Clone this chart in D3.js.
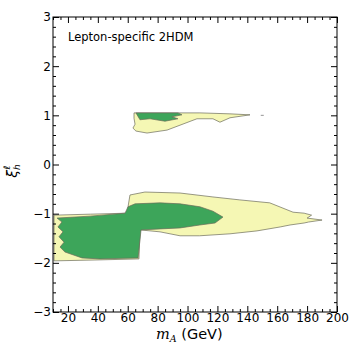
<!DOCTYPE html>
<html>
<head>
<meta charset="utf-8">
<script src="https://cdn.jsdelivr.net/npm/d3@7"></script>
<style>
  body { margin: 0; background: #fff; }
  text { font-family: "DejaVu Sans", sans-serif; }
</style>
</head>
<body>
<div id="chart-area"></div>
<script>
// contour regions, [mA (GeV), xi]
var lowerOuter = [
    [10.7, -1.03], [35, -1.01], [59.5, -0.99], [61.5, -0.62], [71.5, -0.56],
    [95, -0.58], [117, -0.66], [135, -0.72], [155, -0.78], [170.6, -0.97],
    [178, -0.99], [183, -1.03], [180, -1.09], [190, -1.13], [181, -1.17],
    [178, -1.19], [168.6, -1.23], [162, -1.27], [146.5, -1.35], [128.4, -1.41],
    [108, -1.45], [95, -1.45], [81.6, -1.37], [68.2, -1.33], [67.5, -1.92],
    [41.4, -1.94], [10.7, -1.96]
];
var lowerInner = [
    [12.7, -1.09], [34.8, -1.05], [58.2, -0.99], [60.2, -0.86], [64.9, -0.80],
    [81.6, -0.78], [95, -0.80], [108.3, -0.86], [117, -0.95], [123.7, -1.07],
    [118.4, -1.19], [108.3, -1.23], [95, -1.29], [81.6, -1.31], [68.9, -1.33],
    [66.9, -1.90], [41.4, -1.92], [29.4, -1.90], [18, -1.78], [14.7, -1.68],
    [17.4, -1.58], [14, -1.47], [16.7, -1.37], [13.3, -1.27], [16, -1.17]
];
var upperOuter = [
    [64.2, 1.05], [81.6, 1.05], [108.3, 1.05], [128.4, 1.03], [141.8, 1.01],
    [128.4, 0.95], [121.7, 0.86], [117, 0.93], [106.3, 0.93], [95, 0.80],
    [86.3, 0.70], [72.9, 0.64], [65.5, 0.68], [63.5, 0.74], [64.9, 0.82],
    [64.2, 0.94]
];
var upperInner = [
    [65.5, 1.05], [93.6, 1.05], [96.3, 1.01], [89.6, 0.97], [93.6, 0.93],
    [84.9, 0.88], [74.9, 0.93], [68.2, 0.91]
];
var xTicks = [20, 40, 60, 80, 100, 120, 140, 160, 180, 200];
var yTicks = [-3, -2, -1, 0, 1, 2, 3];

var svg = d3.select("#chart-area")
    .append("svg")
        .attr("width", 359)
        .attr("height", 351);

var x = d3.scaleLinear().domain([10, 200]).range([53, 337]);
var y = d3.scaleLinear().domain([-3, 3]).range([312, 17]);

var line = d3.line()
    .x(function(d){ return x(d[0]); })
    .y(function(d){ return y(d[1]); })
    .curve(d3.curveLinearClosed);

var yellow = "#f5f7b4", green = "#3da55a";

[[lowerOuter, yellow], [lowerInner, green], [upperOuter, yellow], [upperInner, green]]
    .forEach(function(p){
        svg.append("path")
            .attr("d", line(p[0]))
            .attr("fill", p[1])
            .attr("stroke", "#6b6b5a")
            .attr("stroke-width", 0.7)
            .attr("stroke-linejoin", "round");
    });

// tiny stray dash
svg.append("line")
    .attr("x1", x(149)).attr("x2", x(151))
    .attr("y1", y(1.0)).attr("y2", y(1.0))
    .attr("stroke", "#777").attr("stroke-width", 0.8);

// frame
svg.append("rect")
    .attr("x", x(10)).attr("y", y(3))
    .attr("width", x(200) - x(10)).attr("height", y(-3) - y(3))
    .attr("fill", "none").attr("stroke", "#000").attr("stroke-width", 1);

var xMinor = d3.range(10, 201, 5).filter(function(v){ return v % 20 != 0; });
var yMinor = d3.range(-3, 3.01, 0.2).filter(function(v){ return Math.abs(v - Math.round(v)) > 0.01; });

// bottom & top axes (inward ticks)
svg.append("g").attr("transform", "translate(0," + y(-3) + ")")
    .call(d3.axisBottom(x).tickValues(xTicks).tickSizeInner(-6).tickSizeOuter(0).tickPadding(1));
svg.append("g").attr("transform", "translate(0," + y(3) + ")")
    .call(d3.axisTop(x).tickValues(xTicks).tickSizeInner(-6).tickSizeOuter(0).tickFormat(""));
svg.append("g").attr("transform", "translate(0," + y(-3) + ")")
    .call(d3.axisBottom(x).tickValues(xMinor).tickSizeInner(-3).tickSizeOuter(0).tickFormat(""));
svg.append("g").attr("transform", "translate(0," + y(3) + ")")
    .call(d3.axisTop(x).tickValues(xMinor).tickSizeInner(-3).tickSizeOuter(0).tickFormat(""));

// left & right axes
svg.append("g").attr("transform", "translate(" + x(10) + ",0)")
    .call(d3.axisLeft(y).tickValues(yTicks).tickSizeInner(-6).tickSizeOuter(0).tickPadding(2)
        .tickFormat(function(d){ return d < 0 ? "\u2212" + (-d) : d; }));
svg.append("g").attr("transform", "translate(" + x(200) + ",0)")
    .call(d3.axisRight(y).tickValues(yTicks).tickSizeInner(-6).tickSizeOuter(0).tickFormat(""));
svg.append("g").attr("transform", "translate(" + x(10) + ",0)")
    .call(d3.axisLeft(y).tickValues(yMinor).tickSizeInner(-3).tickSizeOuter(0).tickFormat(""));
svg.append("g").attr("transform", "translate(" + x(200) + ",0)")
    .call(d3.axisRight(y).tickValues(yMinor).tickSizeInner(-3).tickSizeOuter(0).tickFormat(""));

svg.selectAll(".domain").remove();
svg.selectAll(".tick line").attr("stroke", "#000");
svg.selectAll(".tick text")
    .attr("font-family", "DejaVu Sans")
    .attr("font-size", 12)
    .attr("fill", "#000");

// title
svg.append("text")
    .attr("x", 68).attr("y", 41)
    .attr("font-size", 11.5)
    .text("Lepton-specific 2HDM");

// x label
var xl = svg.append("text")
    .attr("x", 156).attr("y", 339)
    .attr("font-size", 14.5);
xl.append("tspan").attr("font-style", "italic").attr("font-family", "DejaVu Serif").text("m");
xl.append("tspan").attr("font-style", "italic").attr("font-family", "DejaVu Serif")
    .attr("font-size", 9.5).attr("dy", 3).text("A");
xl.append("tspan").attr("dy", -3).text(" (GeV)");

// y label
var yl = svg.append("text")
    .attr("transform", "translate(17,171) rotate(-90)")
    .attr("text-anchor", "middle")
    .attr("font-size", 14)
    .attr("font-style", "italic")
    .attr("font-family", "DejaVu Serif");
yl.append("tspan").text("\u03be");
yl.append("tspan").attr("font-size", 9).attr("dy", 3).text("h");
yl.append("tspan").attr("font-size", 9).attr("dx", -5).attr("dy", -10).text("\u2113");
</script>
</body>
</html>
